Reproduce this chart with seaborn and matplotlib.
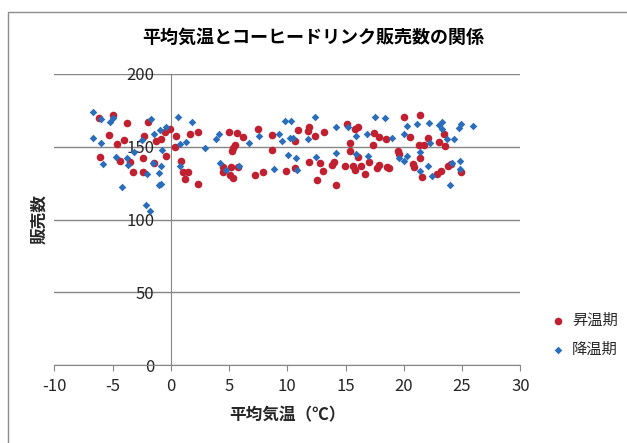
import pandas as pd
import matplotlib
matplotlib.use("Agg")
import matplotlib.pyplot as plt
import seaborn as sns
from matplotlib.patches import Rectangle

# 昇温期 (warming period): average temperature (°C) and sales
warm_temp = [-6.18, -4.92, -3.72, -1.97, -5.29, -4.03, -2.26, -4.64, -1.29, -0.84,
             -0.54, -0.09, 0.42, 1.63, 2.33, 0.40, -6.12, -4.32, -3.52, -2.39,
             -0.39, -1.46, -3.24, -2.39, 0.89, 1.06, 1.48, 1.20, 2.33, 5.01,
             5.64, 6.21, 7.50, 8.70, 10.88, 11.76, 11.85, 12.39, 13.19, 15.14,
             10.64, 5.27, 5.36, 5.55, 8.70, 15.34, 15.38, 4.50, 4.44, 5.18,
             5.75, 5.04, 5.32, 7.27, 7.90, 9.91, 10.70, 11.85, 12.79, 13.05,
             13.85, 13.97, 14.91, 12.57, 14.22, 15.79, 16.03, 17.40, 17.89, 18.45,
             20.03, 21.41, 20.55, 22.06, 23.00, 23.43, 23.52, 16.03, 17.37, 19.46,
             19.57, 21.29, 21.72, 21.43, 15.60, 15.77, 16.34, 16.65, 17.03, 17.72,
             17.89, 18.58, 18.71, 20.83, 20.86, 21.58, 22.87, 23.21, 23.81, 24.03,
             24.87]
warm_sales = [169.5, 171.4, 165.9, 166.8, 157.8, 154.4, 157.2, 151.7, 153.9, 155.4,
              159.7, 162.0, 157.2, 158.5, 160.2, 150.0, 143.0, 140.4, 139.1, 142.3,
              143.6, 139.0, 132.3, 132.8, 139.8, 132.7, 132.7, 127.6, 124.3, 159.7,
              159.0, 156.5, 162.4, 157.8, 161.1, 160.8, 163.5, 157.6, 160.1, 165.2,
              153.9, 147.1, 148.7, 151.0, 147.6, 152.2, 146.9, 135.7, 132.7, 136.1,
              135.7, 130.4, 128.2, 130.2, 132.3, 133.4, 135.4, 139.1, 138.5, 133.4,
              137.3, 139.1, 136.6, 127.0, 123.8, 162.0, 163.3, 159.2, 156.5, 155.1,
              170.0, 172.0, 156.5, 156.0, 153.3, 158.5, 150.5, 142.8, 150.8, 146.9,
              144.8, 150.8, 150.8, 142.1, 136.6, 133.9, 136.6, 130.9, 139.5, 135.0,
              137.1, 135.7, 135.0, 138.0, 136.1, 129.3, 131.3, 133.2, 136.4, 138.2,
              132.7]

# 降温期 (cooling period)
cool_temp = [-6.64, -5.97, -5.18, -4.98, -1.74, 0.60, 1.84, -6.64, -5.97, -0.91,
             -0.43, -1.40, 0.77, 1.32, 2.92, -3.18, -0.74, -4.69, -3.74, -5.84,
             -3.66, -1.57, -0.82, -2.03, -1.00, 0.77, -4.15, -1.03, -0.82, -2.11,
             -1.80, -2.45, 3.84, 4.18, 6.67, 7.55, 9.79, 10.36, 12.39, 9.30,
             9.56, 10.19, 10.45, 11.79, 14.14, 15.23, 4.24, 4.72, 5.87, 8.90,
             10.02, 10.76, 10.85, 12.45, 14.20, 15.91, 16.86, 17.51, 18.37, 19.03,
             20.26, 20.06, 21.12, 22.18, 22.98, 23.30, 23.30, 23.69, 24.27, 22.27,
             24.76, 24.93, 25.90, 15.88, 16.94, 19.61, 20.00, 20.26, 21.35, 21.35,
             22.09, 22.40, 24.18, 24.84, 24.84, 23.95]
cool_sales = [173.6, 168.6, 167.0, 169.3, 168.8, 170.4, 167.0, 155.6, 152.6, 161.1,
              163.3, 158.3, 151.7, 153.0, 149.1, 146.0, 147.6, 142.8, 141.9, 138.2,
              137.3, 138.5, 136.8, 131.1, 131.8, 136.6, 122.2, 123.6, 124.3, 109.9,
              105.8, 154.4, 155.3, 158.7, 152.6, 157.0, 167.6, 167.6, 170.4, 158.7,
              153.7, 155.6, 156.0, 155.3, 163.3, 163.3, 138.9, 133.7, 136.6, 134.3,
              144.1, 141.9, 133.9, 143.2, 145.3, 157.0, 158.3, 170.4, 169.7, 156.0,
              164.0, 158.3, 165.4, 165.9, 164.7, 166.6, 161.8, 154.9, 154.9, 152.2,
              163.1, 165.2, 164.0, 144.6, 143.5, 142.1, 140.2, 143.7, 146.0, 133.2,
              136.8, 129.7, 138.5, 140.2, 134.3, 123.4]

x_ticks = [-10, -5, 0, 5, 10, 15, 20, 25, 30]
y_ticks = [0, 50, 100, 150, 200]

sns.set_style("white")
plt.rcParams['font.family'] = ['Noto Sans CJK JP', 'DejaVu Sans']
plt.rcParams['axes.unicode_minus'] = False

warm = pd.DataFrame({'temp': warm_temp, 'sales': warm_sales})
cool = pd.DataFrame({'temp': cool_temp, 'sales': cool_sales})

grey = '#868686'
txt = '#262626'

fig = plt.figure(figsize=(6.27, 4.43), dpi=100)
ax = fig.add_axes([54.3 / 627, 77.7 / 443, 466 / 627, 291.6 / 443])

sns.scatterplot(data=warm, x='temp', y='sales', ax=ax, color='#C0202F', marker='o',
                s=30, linewidth=0, label='昇温期', zorder=3)
sns.scatterplot(data=cool, x='temp', y='sales', ax=ax, color='#2A6EBB', marker='D',
                s=15, linewidth=0, label='降温期', zorder=3)

ax.set_xlim(-10, 30)
ax.set_ylim(0, 200)
ax.set_xticks(x_ticks)
ax.set_yticks(y_ticks)
ax.set_axisbelow(True)
ax.yaxis.grid(True, color=grey, lw=1)
ax.xaxis.grid(False)

for side in ['top', 'right']:
    ax.spines[side].set_visible(False)
ax.spines['left'].set_position(('data', 0))
ax.spines['left'].set_color(grey)
ax.spines['bottom'].set_color(grey)
ax.tick_params(axis='x', direction='out', length=4, color=grey, labelsize=12,
               labelcolor=txt, pad=5, bottom=True)
ax.tick_params(axis='y', length=0, labelsize=12, labelcolor=txt, pad=12, left=True)

ax.set_xlabel('平均気温（℃）', fontsize=12, fontweight='bold', color=txt, labelpad=8)
ax.set_ylabel('販売数', fontsize=12, fontweight='bold', color=txt)
ax.yaxis.set_label_coords(-0.012, 0.5)

fig.text(313 / 627, 1 - 37 / 443, '平均気温とコーヒードリンク販売数の関係',
         ha='center', va='center', fontsize=13, fontweight='bold', color='black')

ax.legend(loc='center left', bbox_to_anchor=(552 / 627, (443 - 335) / 443),
          bbox_transform=fig.transFigure, frameon=False, fontsize=11,
          handlelength=0.8, handletextpad=0.5, labelspacing=0.8,
          borderpad=0, borderaxespad=0)

# outer chart border
fig.patches.append(Rectangle((8 / 627, -0.1), 1.2, 1.1 - 12 / 443, transform=fig.transFigure,
                             fill=False, edgecolor='#8c8c8c', lw=1))

fig.savefig('out.png', dpi=100)
